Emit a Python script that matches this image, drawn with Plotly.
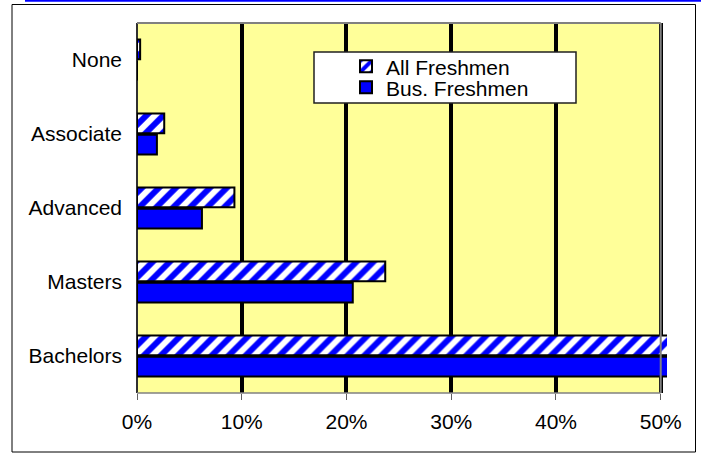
import plotly.graph_objects as go

categories = ["None", "Associate", "Advanced", "Masters", "Bachelors"]
all_freshmen = [0.003, 0.026, 0.093, 0.237, 0.56]
bus_freshmen = [0.0, 0.019, 0.062, 0.206, 0.60]
tick_vals = [0, 0.1, 0.2, 0.3, 0.4, 0.5]
tick_text = ["0%", "10%", "20%", "30%", "40%", "50%"]

W, H = 701, 454
L, R, T, B = 137, 34, 23, 61
pw, ph = W - L - R, H - T - B
xmax = 0.506

def px(x):
    return (x - L) / pw

def py(y):
    return (H - B - y) / ph

font = "Liberation Sans, Arial, sans-serif"

fig = go.Figure()
fig.add_trace(go.Bar(
    y=categories, x=all_freshmen, orientation="h", name="All Freshmen", legend="legend",
    marker=dict(color="white", line=dict(color="black", width=2),
                pattern=dict(shape="/", fgcolor="#0000FF", fgopacity=1, bgcolor="white",
                             fillmode="replace", size=12, solidity=0.5)),
))
fig.add_trace(go.Bar(
    y=categories, x=bus_freshmen, orientation="h", name="Bus. Freshmen", legend="legend2",
    marker=dict(color="#0000FF", line=dict(color="black", width=2)),
))

shapes = [
    dict(type="rect", xref="x", yref="paper", x0=0, x1=0.5, y0=0, y1=1,
         fillcolor="#FFFF99", line=dict(width=0), layer="below"),
    dict(type="line", xref="x", yref="paper", x0=0, x1=0.5, y0=1, y1=1,
         line=dict(color="#808080", width=2)),
    dict(type="line", xref="x", yref="paper", x0=0.5, x1=0.5, y0=0, y1=1,
         line=dict(color="#808080", width=2)),
    dict(type="line", xref="x", yref="paper", x0=0, x1=0.5, y0=0, y1=0,
         line=dict(color="#808080", width=1.5)),
    dict(type="rect", xref="paper", yref="paper", x0=px(314), x1=px(576), y0=py(103), y1=py(52),
         fillcolor="white", line=dict(color="#202020", width=1.5), layer="above"),
    dict(type="rect", xref="paper", yref="paper", x0=px(12), x1=px(695.5), y0=py(452), y1=py(4.5),
         fillcolor="rgba(0,0,0,0)", line=dict(color="black", width=1)),
    dict(type="line", xref="paper", yref="paper", x0=px(25), x1=px(701), y0=py(0.8), y1=py(0.8),
         line=dict(color="#0000FF", width=2)),
]

leg_common = dict(xanchor="left", yanchor="middle", bgcolor="rgba(0,0,0,0)", borderwidth=0,
                  font=dict(family=font, size=21, color="black"))

fig.update_layout(
    width=W, height=H,
    margin=dict(l=L, r=R, t=T, b=B, pad=0, autoexpand=False),
    paper_bgcolor="white", plot_bgcolor="white",
    barmode="group", bargap=0.42, bargroupgap=0.08,
    font=dict(family=font, size=21, color="black"),
    showlegend=True,
    legend=dict(x=px(346), y=py(66.7), **leg_common),
    legend2=dict(x=px(346), y=py(87.7), **leg_common),
    shapes=shapes,
    xaxis=dict(range=[0, xmax], tickvals=tick_vals, ticktext=tick_text, automargin=False,
               showgrid=True, gridcolor="black", gridwidth=4,
               zeroline=True, zerolinecolor="#303030", zerolinewidth=2,
               ticks="outside", ticklen=6, tickcolor="#606060", tickwidth=1,
               ticklabelstandoff=4, showline=False, fixedrange=True),
    yaxis=dict(autorange="reversed", showgrid=False, zeroline=False, automargin=False,
               ticks="", ticklabelstandoff=14, showline=False, fixedrange=True),
)

fig.write_html("out.html", config={"displayModeBar": False},
               post_script="document.body.style.margin='0';document.body.style.padding='0';")
